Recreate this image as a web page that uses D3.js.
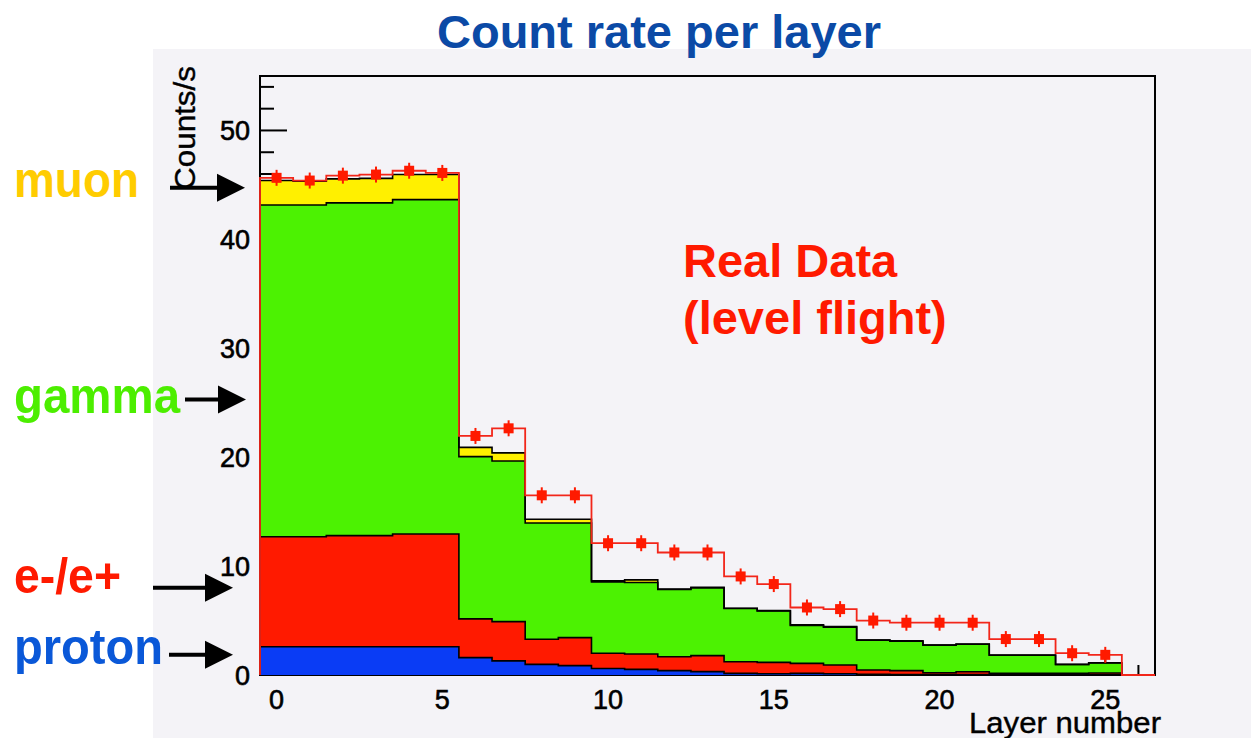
<!DOCTYPE html>
<html>
<head>
<meta charset="utf-8">
<script src="https://cdn.jsdelivr.net/npm/d3@7"></script>
<style>
	html, body { margin: 0; padding: 0; background: #fff; }
	svg { display: block; }
	text { font-family: 'Liberation Sans', Arial, sans-serif; }
</style>
</head>
<body>
<svg width="1251" height="738"></svg>
<script>
// DATA - counts/s per layer
const layers = d3.range(0, 26)
const proton = [2.6, 2.6, 2.6, 2.6, 2.6, 2.6, 1.6, 1.3, 0.98, 0.86, 0.6, 0.52, 0.4, 0.31, 0.15, 0.12, 0.15, 0.12, 0.06, 0.05, 0.04, 0.04, 0.03, 0.03, 0.02, 0.02]
const electron = [10.1, 10.1, 10.2, 10.2, 10.35, 10.35, 3.55, 3.6, 2.3, 2.57, 1.4, 1.41, 1.28, 1.47, 1.07, 1.04, 0.92, 0.8, 0.4, 0.35, 0.16, 0.26, 0.12, 0.12, 0.13, 0.16]
const gamma = [30.45, 30.45, 30.55, 30.55, 30.7, 30.7, 14.9, 14.75, 10.67, 10.52, 6.55, 6.57, 6.17, 6.22, 4.88, 4.72, 3.48, 3.48, 2.74, 2.7, 2.54, 2.53, 1.67, 1.67, 0.81, 0.92]
const muon = [2.25, 2.2, 2.2, 2.25, 2.3, 2.3, 0.85, 0.75, 0.35, 0.35, 0.1, 0.23, 0.05, 0.06, 0.03, 0.03, 0.05, 0.04, 0.02, 0.03, 0.02, 0.02, 0.02, 0.02, 0.02, 0.03]
// real data has one more (empty) bin, layer 26
const realData = [45.65, 45.4, 45.85, 45.95, 46.3, 46.1, 21.95, 22.65, 16.5, 16.5, 12.1, 12.1, 11.25, 11.25, 9.05, 8.35, 6.2, 6.05, 5.0, 4.8, 4.8, 4.8, 3.3, 3.3, 2.0, 1.85, 0]
const seriesKeys = ['proton', 'electron', 'gamma', 'muon']
const seriesNames = ['proton', 'e-/e+', 'gamma', 'muon']
const yTicks = [0, 10, 20, 30, 40, 50]
const xTicks = [0, 5, 10, 15, 20, 25]

const colors = {
	proton: '#0a3cf5',
	electron: '#ff1a00',
	gamma: '#4cf202',
	muon: '#fff000'
}
const labelColors = {
	proton: '#0a58d8',
	electron: '#ff1a00',
	gamma: '#4cee00',
	muon: '#ffcc00'
}

const svg = d3.select('svg')
const x = d3.scaleLinear().domain([-0.5, 26.5]).range([260, 1155])
const y = d3.scaleLinear().domain([0, 55]).range([675, 76])

// PANEL BACKGROUND
svg.append('rect')
	.attr('x', 153).attr('y', 49)
	.attr('width', 1251 - 153).attr('height', 738 - 49)
	.attr('fill', '#f4f3f7')

// TICKS (drawn first, the histogram covers them like in ROOT)
const ticks = svg.append('g').attr('stroke', '#000').attr('stroke-width', 2)
d3.range(0, 56, 2).forEach(v => {
	ticks.append('line')
		.attr('x1', x.range()[0]).attr('x2', x.range()[0] + (v % 10 === 0 ? 27 : 14))
		.attr('y1', y(v)).attr('y2', y(v))
})
d3.range(0, 27).forEach(v => {
	ticks.append('line')
		.attr('x1', x(v)).attr('x2', x(v))
		.attr('y1', y(0)).attr('y2', y(0) - (v % 5 === 0 ? 18 : 10))
})

// FRAME
svg.append('rect')
	.attr('x', x.range()[0]).attr('y', y.range()[1])
	.attr('width', x.range()[1] - x.range()[0])
	.attr('height', y.range()[0] - y.range()[1])
	.attr('fill', 'none').attr('stroke', '#000').attr('stroke-width', 2)

// STACK
const table = layers.map(i => ({
	layer: i,
	proton: proton[i],
	electron: electron[i],
	gamma: gamma[i],
	muon: muon[i]
}))
const stacked = d3.stack().keys(seriesKeys)(table)

// each bin becomes two points (left and right edge) so the linear area/line makes steps
const steps = s => s.flatMap(d => [
	{ x: d.data.layer - 0.5, y0: d[0], y1: d[1] },
	{ x: d.data.layer + 0.5, y0: d[0], y1: d[1] }
])
const area = d3.area()
	.x(d => x(d.x))
	.y0(d => y(d.y0))
	.y1(d => y(d.y1))
const outline = d3.line()
	.x(d => x(d.x))
	.y(d => y(d.y1))

const hist = svg.append('g')
hist.selectAll('path.fill')
	.data(stacked)
	.join('path')
	.attr('class', 'fill')
	.attr('d', s => area(steps(s)))
	.attr('fill', s => colors[s.key])

hist.selectAll('path.edge')
	.data(stacked)
	.join('path')
	.attr('class', 'edge')
	.attr('d', s => outline([{ x: -0.5, y1: 0 }, ...steps(s), { x: 25.5, y1: 0 }]))
	.attr('fill', 'none')
	.attr('stroke', '#000')
	.attr('stroke-width', 1.6)

// REAL DATA - red step line + markers
const dataSteps = realData.flatMap((v, i) => [
	{ x: i - 0.5, y1: v },
	{ x: i + 0.5, y1: v }
])
svg.append('path')
	.attr('d', outline([{ x: -0.5, y1: 0 }, ...dataSteps, { x: 26.5, y1: 0 }]))
	.attr('fill', 'none')
	.attr('stroke', '#f2261a')
	.attr('stroke-width', 1.8)

const markers = svg.append('g')
	.selectAll('g')
	.data(realData.map((v, i) => ({ layer: i, value: v })).filter(d => d.value > 0))
	.join('g')
	.attr('transform', d => `translate(${[x(d.layer), y(d.value)]})`)
markers.append('line')
	.attr('y1', -8).attr('y2', 8)
	.attr('stroke', '#ff1a00').attr('stroke-width', 2)
markers.append('rect')
	.attr('x', -5).attr('y', -5)
	.attr('width', 10).attr('height', 10)
	.attr('fill', '#ff1a00')

// AXIS LABELS
const tickText = sel => sel
	.attr('font-size', 27)
	.attr('fill', '#000')
	.attr('stroke', '#000')
	.attr('stroke-width', 0.6)
svg.append('g')
	.selectAll('text')
	.data(yTicks)
	.join('text')
	.attr('x', 250)
	.attr('y', d => y(d))
	.attr('dy', '0.36em')
	.attr('text-anchor', 'end')
	.call(tickText)
	.text(d => d)
svg.append('g')
	.selectAll('text')
	.data(xTicks)
	.join('text')
	.attr('x', d => x(d))
	.attr('y', 709)
	.attr('text-anchor', 'middle')
	.call(tickText)
	.text(d => d)

svg.append('text')
	.attr('transform', 'translate(195,190) rotate(-90)')
	.attr('font-size', 30)
	.attr('textLength', 124)
	.attr('lengthAdjust', 'spacingAndGlyphs')
	.attr('stroke', '#000').attr('stroke-width', 0.4)
	.text('Counts/s')
svg.append('text')
	.attr('x', 969).attr('y', 733)
	.attr('font-size', 30)
	.attr('textLength', 192)
	.attr('lengthAdjust', 'spacingAndGlyphs')
	.attr('stroke', '#000').attr('stroke-width', 0.4)
	.text('Layer number')

// TITLE + NOTE
svg.append('text')
	.attr('x', 659).attr('y', 48)
	.attr('text-anchor', 'middle')
	.attr('font-size', 47)
	.attr('font-weight', 'bold')
	.attr('fill', '#0b4aa6')
	.text('Count rate per layer')
const note = svg.append('g')
	.attr('font-size', 47)
	.attr('font-weight', 'bold')
	.attr('fill', '#ff1a00')
note.append('text').attr('x', 683).attr('y', 277).text('Real Data')
note.append('text').attr('x', 683).attr('y', 334).text('(level flight)')

// COMPONENT LABELS WITH ARROWS (arrow heights in counts/s)
const annot = [
	{ key: 'muon', base: 197, width: 125, from: 170, to: 245, at: 44.75 },
	{ key: 'gamma', base: 413, width: 166, from: 185, to: 246, at: 25.3 },
	{ key: 'electron', base: 593, width: 107, from: 153, to: 233, at: 8.0 },
	{ key: 'proton', base: 664, width: 149, from: 169, to: 233, at: 1.85 }
]
const ann = svg.append('g')
	.selectAll('g')
	.data(annot)
	.join('g')
ann.append('text')
	.attr('x', 14)
	.attr('y', d => d.base)
	.attr('font-size', 50)
	.attr('font-weight', 'bold')
	.attr('textLength', d => d.width)
	.attr('lengthAdjust', 'spacingAndGlyphs')
	.attr('fill', d => labelColors[d.key])
	.text(d => seriesNames[seriesKeys.indexOf(d.key)])
ann.append('line')
	.attr('x1', d => d.from).attr('x2', d => d.to - 20)
	.attr('y1', d => y(d.at)).attr('y2', d => y(d.at))
	.attr('stroke', '#000').attr('stroke-width', 4)
ann.append('path')
	.attr('d', d => `M${[d.to, y(d.at)]}L${[d.to - 28, y(d.at) - 14]}L${[d.to - 28, y(d.at) + 14]}Z`)
	.attr('fill', '#000')
</script>
</body>
</html>
